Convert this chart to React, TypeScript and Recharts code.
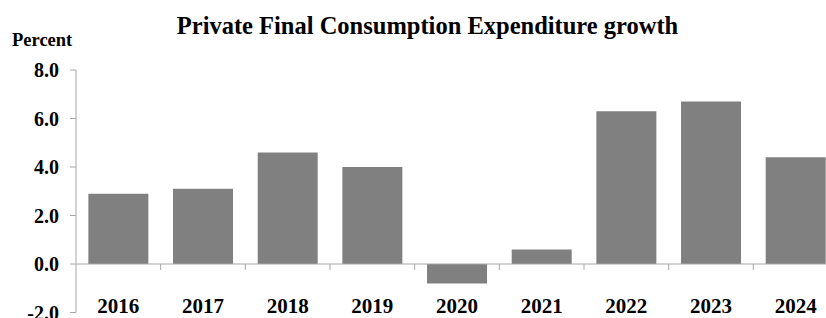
import React from 'react';
import { Bar, BarChart, ReferenceLine, XAxis, YAxis } from 'recharts';

const years = ['2016', '2017', '2018', '2019', '2020', '2021', '2022', '2023', '2024'];
const growth = [2.9, 3.1, 4.6, 4.0, -0.8, 0.6, 6.3, 6.7, 4.4];
const yTicks = [-2, 0, 2, 4, 6, 8];

const data = years.map((year, i) => ({ year, value: growth[i] }));

const FONT = '"Liberation Serif", "Times New Roman", serif';
const AXIS_GREY = '#a6a6a6';

const YearTick = ({ x, y, payload }: any) => (
  <text x={x} y={y} textAnchor="middle" fontFamily={FONT} fontWeight="bold" fontSize={21} fill="#000">
    {payload.value}
  </text>
);

// zero line with small tick marks between the categories (excel style)
const ZeroLine = (props: any) => {
  const { x1, x2, y1 } = props;
  const step = (x2 - x1) / years.length;
  return (
    <g>
      <line x1={x1} y1={y1} x2={x2} y2={y1} stroke={AXIS_GREY} strokeWidth={1} />
      {years.slice(1).map((y, i) => (
        <line key={y} x1={x1 + step * (i + 1)} y1={y1} x2={x1 + step * (i + 1)} y2={y1 + 6} stroke={AXIS_GREY} />
      ))}
    </g>
  );
};

const App: React.FC = () => (
  <div style={{ position: 'fixed', left: 0, top: 0, width: 826, height: 318, overflow: 'hidden', background: '#fff' }}>
    <div
      style={{
        position: 'absolute',
        left: 0,
        top: 13.8,
        width: 855,
        textAlign: 'center',
        fontFamily: FONT,
        fontWeight: 'bold',
        fontSize: 24.5,
        lineHeight: '24.5px',
      }}
    >
      Private Final Consumption Expenditure growth
    </div>
    <div
      style={{
        position: 'absolute',
        left: 12,
        top: 31.2,
        fontFamily: FONT,
        fontWeight: 'bold',
        fontSize: 18.5,
        lineHeight: '18.5px',
      }}
    >
      Percent
    </div>
    <BarChart width={838} height={330} data={data} margin={{ top: 70, right: 0, bottom: 16.5, left: 0 }} barCategoryGap="14.6%">
      <XAxis dataKey="year" height={1} axisLine={false} tickLine={false} tickSize={0} tickMargin={0} tick={<YearTick />} interval={0} />
      <YAxis
        width={76}
        domain={[-2, 8]}
        ticks={yTicks}
        interval={0}
        tickFormatter={(v: number) => v.toFixed(1)}
        axisLine={{ stroke: AXIS_GREY }}
        tickLine={{ stroke: AXIS_GREY }}
        tickSize={6}
        tickMargin={11}
        tick={{ fill: '#000', fontFamily: FONT, fontWeight: 'bold', fontSize: 20 }}
      />
      <Bar dataKey="value" fill="#808080" isAnimationActive={false} />
      <ReferenceLine y={0} shape={<ZeroLine />} />
    </BarChart>
  </div>
);

export default App;
